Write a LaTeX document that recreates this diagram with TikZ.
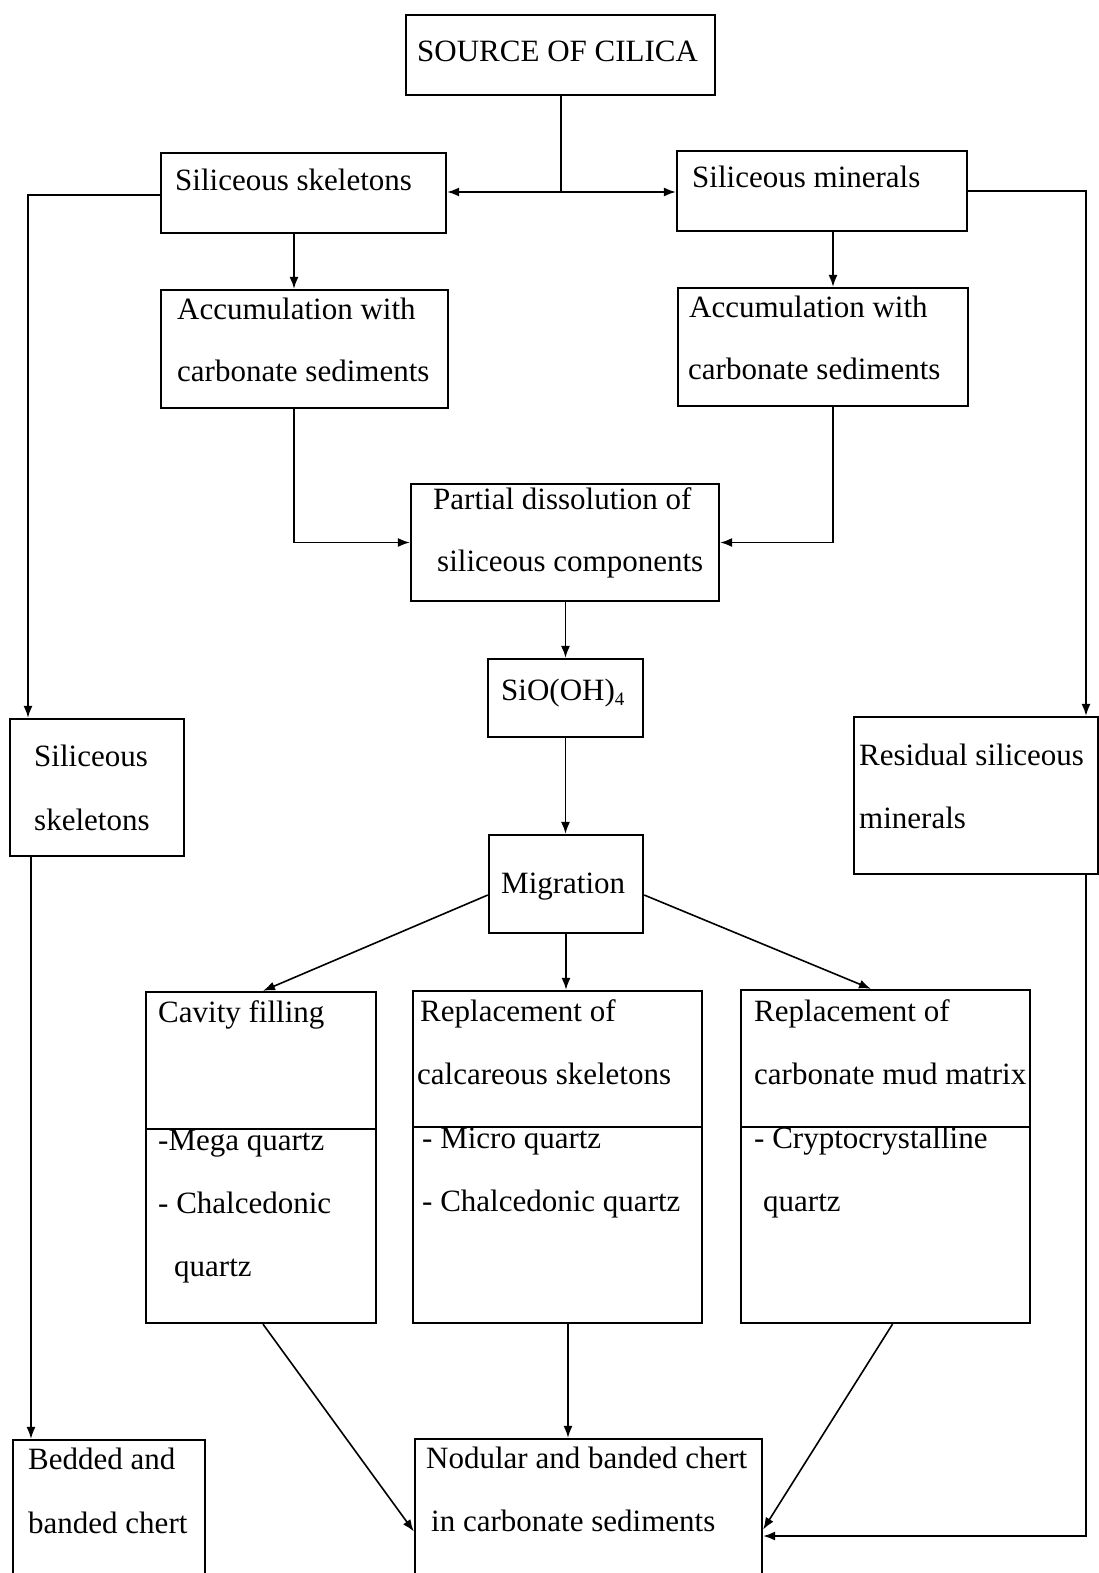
\documentclass[tikz,border=0pt]{standalone}
\usepackage{fontspec}
\setmainfont{Liberation Serif}
\usetikzlibrary{arrows.meta}
\begin{document}
\begin{tikzpicture}[x=1pt,y=-1pt,
  box/.style={draw,line width=2.3pt,inner sep=0pt,anchor=center},
  conn/.style={line width=1.6pt},
  arr/.style={line width=1.6pt,-{Latex[length=12pt,width=9pt]}},
  txt/.style={anchor=base west,inner sep=0pt,font=\fontsize{31}{36}\selectfont}]
\useasboundingbox (0,0) rectangle (1099,1573);
\fill[white] (0,0) rectangle (1099,1573);
% boxes
\node[box,minimum width=309pt,minimum height=80pt] (src) at (560.5,55) {};
\node[box,minimum width=285pt,minimum height=80pt] (sk) at (303.5,193) {};
\node[box,minimum width=290pt,minimum height=80pt] (sm) at (822,191) {};
\node[box,minimum width=287pt,minimum height=118pt] (acl) at (304.5,349) {};
\node[box,minimum width=290pt,minimum height=118pt] (acr) at (823,347) {};
\node[box,minimum width=308pt,minimum height=117pt] (pd) at (565,542.5) {};
\node[box,minimum width=155pt,minimum height=78pt] (sio) at (565.5,698) {};
\node[box,minimum width=154pt,minimum height=98pt] (mig) at (566,884) {};
\node[box,minimum width=174pt,minimum height=137pt] (ss2) at (97,787.5) {};
\node[box,minimum width=244pt,minimum height=157pt] (res) at (976,795.5) {};
\node[box,minimum width=230pt,minimum height=331pt] (cav) at (261,1157.5) {};
\node[box,minimum width=289pt,minimum height=332pt] (rcs) at (557.5,1157) {};
\node[box,minimum width=289pt,minimum height=333pt] (rcm) at (885.5,1156.5) {};
\node[box,minimum width=192pt,minimum height=170pt] (bed) at (109,1525) {};
\node[box,minimum width=347pt,minimum height=171pt] (nod) at (588.5,1524.5) {};
% dividers
\coordinate (d1) at (0,1129);
\coordinate (d2) at (0,1127);
\draw[line width=2.3pt] (cav.west |- d1) -- (cav.east |- d1);
\draw[line width=2.3pt] (rcs.west |- d2) -- (rcs.east |- d2);
\draw[line width=2.3pt] (rcm.west |- d2) -- (rcm.east |- d2);
% texts
\node[txt] (t1) at (417,62) {SOURCE OF CILICA};
\node[txt] (t2) at (175,191) {Siliceous skeletons};
\node[txt] (t3) at (692,188) {Siliceous minerals};
\node[txt] (t4) at (177,319) {Accumulation with};
\node[txt] (t5) at (177,381) {carbonate sediments};
\node[txt] (t6) at (689,317) {Accumulation with};
\node[txt] (t7) at (688,379) {carbonate sediments};
\node[txt] (t8) at (433,509) {Partial dissolution of};
\node[txt] (t9) at (437,571) {siliceous components};
\node[txt] (t10) at (501,700) {SiO(OH)\raisebox{-5pt}{\fontsize{19}{20}\selectfont 4}};
\node[txt] (t11) at (501,893) {Migration};
\node[txt] (t12) at (34,766) {Siliceous};
\node[txt] (t13) at (34,830) {skeletons};
\node[txt] (t14) at (859,765) {Residual siliceous};
\node[txt] (t15) at (859,828) {minerals};
\node[txt] (t16) at (158,1022) {Cavity filling};
\node[txt] (t17) at (158,1150) {-Mega quartz};
\node[txt] (t18) at (158,1213) {- Chalcedonic};
\node[txt] (t19) at (174,1276) {quartz};
\node[txt] (t20) at (420,1021) {Replacement of};
\node[txt] (t21) at (417,1084) {calcareous skeletons};
\node[txt] (t22) at (422,1148) {- Micro quartz};
\node[txt] (t23) at (422,1211) {- Chalcedonic quartz};
\node[txt] (t24) at (754,1021) {Replacement of};
\node[txt] (t25) at (754,1084) {carbonate mud matrix};
\node[txt] (t26) at (754,1148) {- Cryptocrystalline};
\node[txt] (t27) at (763,1211) {quartz};
\node[txt] (t28) at (28,1469) {Bedded and};
\node[txt] (t29) at (28,1533) {banded chert};
\node[txt] (t30) at (426,1468) {Nodular and banded chert};
\node[txt] (t31) at (431,1531) {in carbonate sediments};
% helper coordinates
\coordinate (j) at (561,192);
\coordinate (lk) at (28,195);
\coordinate (rk) at (1086,191);
\coordinate (c1) at (294,0);
\coordinate (c2) at (833,0);
\coordinate (c3) at (568,0);
\coordinate (c4) at (31,0);
\coordinate (rb) at (1086,1536);
\coordinate (ml) at (263,0);
\coordinate (mr) at (871,0);
% connectors
\draw[conn] (src.south -| j) -- (j);
\draw[arr] (j) -- (sk.east |- j);
\draw[arr] (j) -- (sm.west |- j);
\draw[arr] (sk.west |- lk) -- (lk) -- (lk |- ss2.north);
\draw[arr] (sm.east |- rk) -- (rk) -- (rk |- res.north);
\draw[arr] (sk.south -| c1) -- (acl.north -| c1);
\draw[arr] (sm.south -| c2) -- (acr.north -| c2);
\draw[arr] (acl.south -| c1) |- (pd.west);
\draw[arr] (acr.south -| c2) |- (pd.east);
\draw[arr] (pd.south -| sio.north) -- (sio.north);
\draw[arr] (sio.south) -- (sio.south |- mig.north);
\draw[arr] ([yshift=-11pt]mig.west) -- (cav.north -| ml);
\draw[arr] (mig.south) -- (mig.south |- rcs.north);
\draw[arr] ([yshift=-11pt]mig.east) -- (rcm.north -| mr);
\draw[arr] ([xshift=2pt]cav.south) -- ([yshift=-7pt]nod.west);
\draw[arr] (rcs.south -| c3) -- (nod.north -| c3);
\draw[arr] ([xshift=7pt]rcm.south) -- ([yshift=-5pt]nod.east);
\draw[arr] (res.south -| rb) -- (rb) -- (nod.east |- rb);
\draw[arr] (ss2.south -| c4) -- (bed.north -| c4);
\end{tikzpicture}
\end{document}
